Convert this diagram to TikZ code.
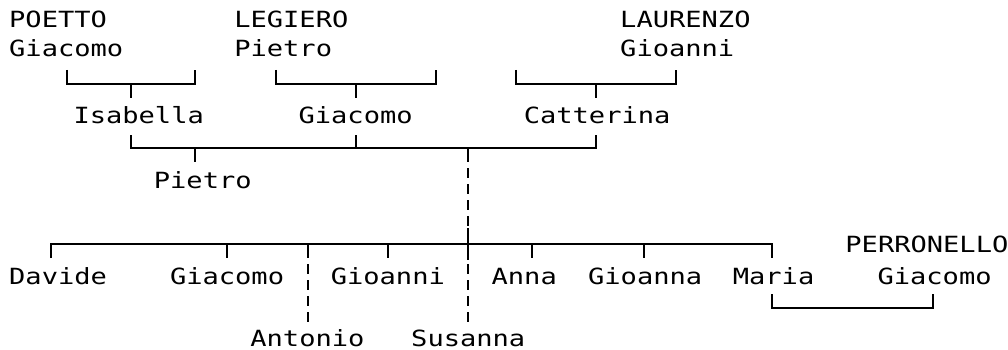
\documentclass[tikz,border=0pt]{standalone}
\usepackage{fontspec}
\newfontfamily\tmono[FakeStretch=1.214]{DejaVu Sans Mono}
\begin{document}
\begin{tikzpicture}[x=1pt,y=-1pt,
  person/.style={anchor=base west,inner sep=0pt,font=\tmono\fontsize{22.3}{26}\selectfont},
  link/.style={line width=2pt,line cap=butt,line join=miter},
  dlink/.style={line width=2pt,line cap=butt,dash pattern=on 10pt off 6pt}]
\useasboundingbox (0,0) rectangle (1008,350);
% ---- names ----
\node[person] (poetto)   at (9,28)     {POETTO};
\node[person] (giacP)    at (9,57)     {Giacomo};
\node[person] (legiero)  at (234.1,28) {LEGIERO};
\node[person] (pietL)    at (234.1,57) {Pietro};
\node[person] (laurenzo) at (620.0,28) {LAURENZO};
\node[person] (gioaL)    at (620.0,57) {Gioanni};
\node[person] (isabella) at (73.3,124) {Isabella};
\node[person] (giacL)    at (298.4,124) {Giacomo};
\node[person] (catter)   at (523.6,124) {Catterina};
\node[person] (pietro)   at (153.7,188) {Pietro};
\node[person] (perron)   at (845.2,252) {PERRONELLO};
\node[person] (davide)   at (9,284)     {Davide};
\node[person] (giacomo)  at (169.8,284) {Giacomo};
\node[person] (gioanni)  at (330.6,284) {Gioanni};
\node[person] (anna)     at (491.4,284) {Anna};
\node[person] (gioanna)  at (587.9,284) {Gioanna};
\node[person] (maria)    at (732.6,284) {Maria};
\node[person] (giacPe)   at (877.3,284) {Giacomo};
\node[person] (antonio)  at (250.2,346) {Antonio};
\node[person] (susanna)  at (411.0,346) {Susanna};
% ---- family of Isabella ----
\coordinate (aL) at (67.1,70);
\coordinate (aR) at (195.3,70);
\coordinate (aJ) at (131.2,84);
\coordinate (aC) at (131.2,98);
\draw[link] (aL) |- (aJ) -| (aR);
\draw[link] (aJ) -- (aC);
% ---- family of Giacomo LEGIERO ----
\coordinate (bL) at (275.5,70);
\coordinate (bR) at (435.8,70);
\coordinate (bJ) at (355.6,84);
\coordinate (bC) at (355.6,98);
\draw[link] (bL) |- (bJ) -| (bR);
\draw[link] (bJ) -- (bC);
% ---- family of Catterina ----
\coordinate (cL) at (515.9,70);
\coordinate (cR) at (676.2,70);
\coordinate (cJ) at (596.1,84);
\coordinate (cC) at (596.1,98);
\draw[link] (cL) |- (cJ) -| (cR);
\draw[link] (cJ) -- (cC);
% ---- second generation ----
\coordinate (dL) at (131.2,135);
\coordinate (dR) at (596.1,135);
\coordinate (dJ) at (467.8,148);
\coordinate (dP) at (195.3,162);
\coordinate (dG) at (355.6,135);
\coordinate (dS) at (467.8,162);
\draw[link] (dL) |- (dJ) -| (dR);
\draw[link] (dP |- dJ) -- (dP);
\draw[link] (dG |- dJ) -- (dG);
\draw[link] (dJ) -- (dS);
% ---- dashed descent to Susanna ----
\coordinate (eT) at (467.8,168);
\coordinate (eS) at (467.8,322);
\draw[dlink] (eT) -- (eS);
\coordinate (fU) at (467.8,228);
\coordinate (fD) at (467.8,260);
\draw[link] (fU) -- (fD);
% ---- children ----
\coordinate (hL) at (51.1,258);
\coordinate (hR) at (772.4,258);
\coordinate (hJ) at (467.8,244);
\draw[link] (hL) |- (hJ) -| (hR);
\coordinate (hGi) at (227.4,258);
\coordinate (hAn) at (307.5,258);
\coordinate (hGo) at (387.7,258);
\coordinate (hAa) at (532.0,258);
\coordinate (hGa) at (644.2,258);
\draw[link] (hGi |- hJ) -- (hGi);
\draw[link] (hAn |- hJ) -- (hAn);
\draw[link] (hGo |- hJ) -- (hGo);
\draw[link] (hAa |- hJ) -- (hAa);
\draw[link] (hGa |- hJ) -- (hGa);
\coordinate (kT) at (307.5,264);
\coordinate (kA) at (307.5,322);
\draw[dlink] (kT) -- (kA);
% ---- Maria and Giacomo PERRONELLO ----
\coordinate (mL) at (772.4,294);
\coordinate (mR) at (932.7,294);
\coordinate (mJ) at (852.5,308);
\draw[link] (mL) |- (mJ) -| (mR);
\end{tikzpicture}
\end{document}
